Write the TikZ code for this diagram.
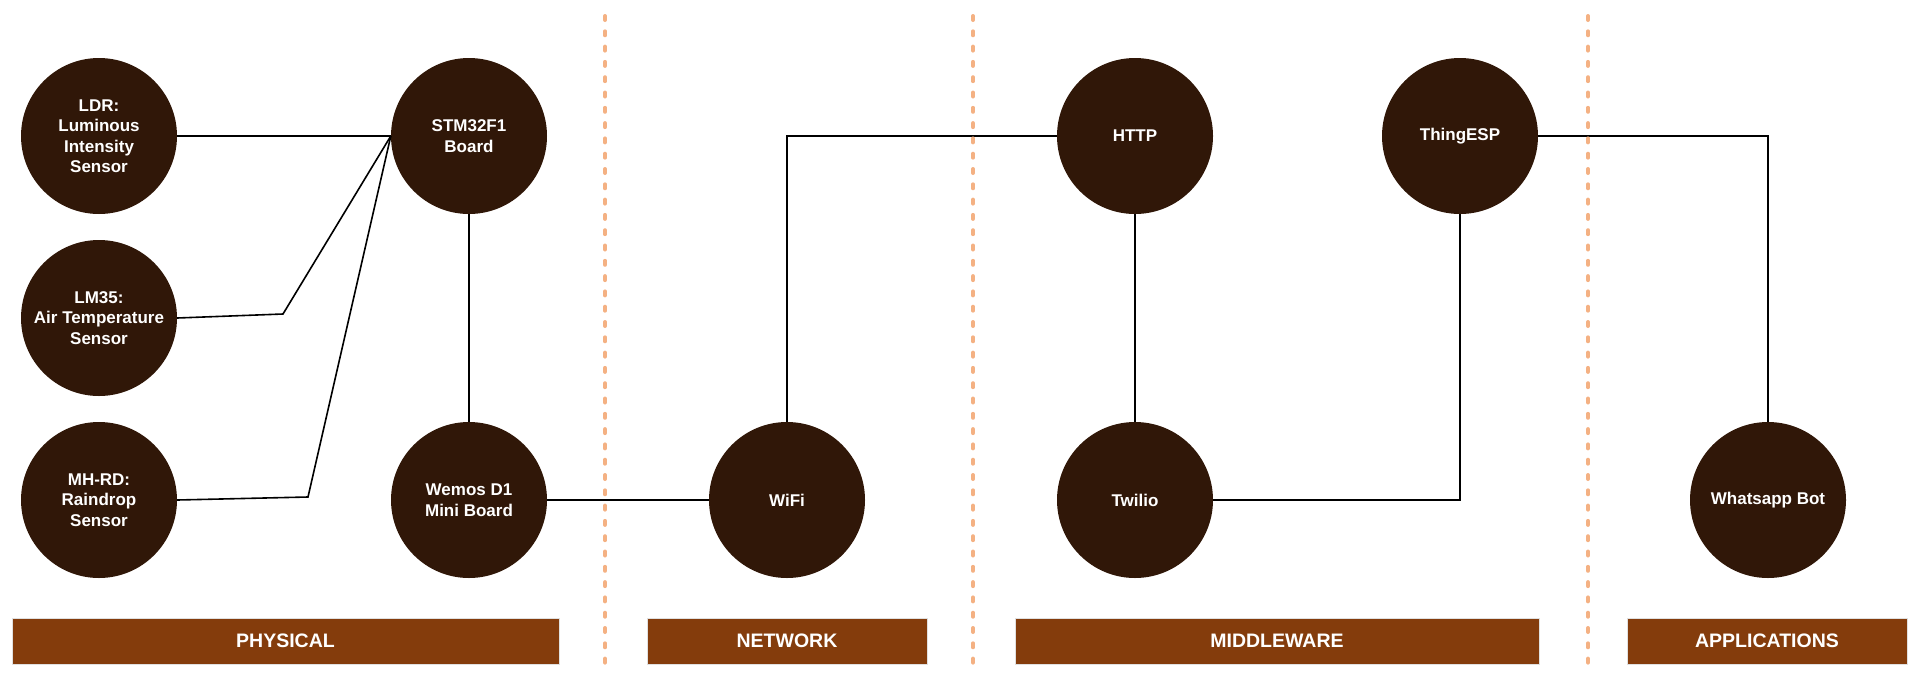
\documentclass[tikz,border=0pt]{standalone}
\usepackage{fontspec}
\setmainfont{Liberation Sans}
\definecolor{nodebrown}{RGB}{48,23,8}
\definecolor{barbrown}{RGB}{132,60,12}
\definecolor{dotorange}{RGB}{244,177,131}
\tikzset{
  circ/.style={circle, fill=nodebrown, minimum size=156pt, inner sep=0pt, align=center,
    text=white, font=\fontsize{17}{20.5}\selectfont\bfseries},
  layerbar/.style={rectangle, fill=barbrown, draw=black!12, line width=0.8pt, minimum height=46pt,
    inner sep=0pt, text=white, font=\fontsize{19.5}{22}\selectfont\bfseries},
  conn/.style={draw=black, line width=1.6pt},
  sepline/.style={draw=dotorange, line width=4pt, line cap=round, dash pattern=on 4pt off 11.3pt}
}
\begin{document}
\begin{tikzpicture}[x=1pt,y=-1pt]
\useasboundingbox (0,0) rectangle (1920,678);
% nodes
\node[circ] (ldr) at (99,136) {LDR:\\Luminous\\Intensity\\Sensor};
\node[circ] (lm) at (99,318) {LM35:\\Air Temperature\\Sensor};
\node[circ] (mh) at (99,500) {MH-RD:\\Raindrop\\Sensor};
\node[circ] (stm) at (469,136) {STM32F1\\Board};
\node[circ] (wemos) at (469,500) {Wemos D1\\Mini Board};
\node[circ] (wifi) at (787,500) {WiFi};
\node[circ] (http) at (1135,136) {HTTP};
\node[circ] (twilio) at (1135,500) {Twilio};
\node[circ] (thing) at (1460,136) {ThingESP};
\node[circ] (whats) at (1768,500) {Whatsapp Bot};
% bend points
\coordinate (k1) at (283,314);
\coordinate (k2) at (308,497);
% connectors
\draw[conn] (ldr.east) -- (stm.west);
\draw[conn] (lm.east) -- (k1) -- (stm.west);
\draw[conn] (mh.east) -- (k2) -- (stm.west);
\draw[conn] (stm.south) -- (wemos.north);
\draw[conn] (wemos.east) -- (wifi.west);
\draw[conn] (wifi.north) |- (http.west);
\draw[conn] (http.south) -- (twilio.north);
\draw[conn] (twilio.east) -| (thing.south);
\draw[conn] (thing.east) -| (whats.north);
% separators
\coordinate (s1t) at (605,16); \coordinate (s1b) at (605,664);
\coordinate (s2t) at (973,16); \coordinate (s2b) at (973,664);
\coordinate (s3t) at (1588,16); \coordinate (s3b) at (1588,664);
\draw[sepline] (s1t) -- (s1b);
\draw[sepline] (s2t) -- (s2b);
\draw[sepline] (s3t) -- (s3b);
% layer bars
\node[layerbar, minimum width=547pt] (phys) at (285.5,641) {PHYSICAL};
\node[layerbar, minimum width=280pt] (net) at (787,641) {NETWORK};
\node[layerbar, minimum width=524pt] (mid) at (1277,641) {MIDDLEWARE};
\node[layerbar, minimum width=280pt] (app) at (1767,641) {APPLICATIONS};
\end{tikzpicture}
\end{document}
